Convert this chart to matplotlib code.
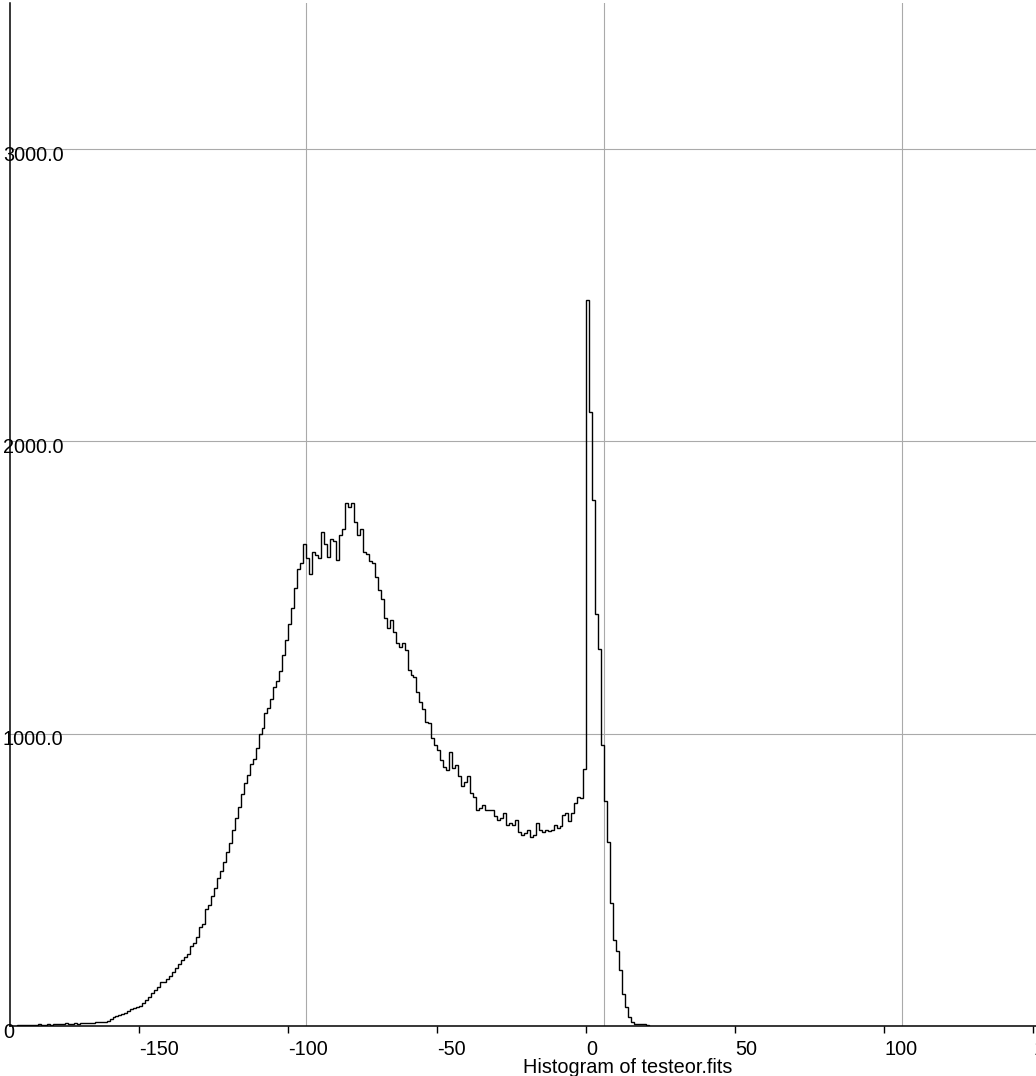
import matplotlib
matplotlib.use('Agg')
import matplotlib.pyplot as plt
import matplotlib.transforms as mtransforms
import numpy as np

# histogram counts, 1-unit bins starting at -191
bin_start = -191
bin_width = 1
tail_counts = [3, 2, 4, 3, 5, 3, 4, 6, 4, 5, 7, 5, 6, 8, 6, 7, 9, 7, 8, 10, 8, 9, 11,
               9, 10, 9, 12, 13, 15, 14, 18]
rise_counts = [25, 31, 33, 36, 40, 46, 50, 57, 60, 64,
               70, 78, 88, 100, 112, 122, 135, 152, 150, 160,
               170, 186, 200, 212, 226, 235, 248, 272, 285, 305,
               340, 350, 400, 415, 445, 472, 505, 530, 560, 595,
               625, 670, 710, 750, 795, 830, 860, 895, 915, 950,
               1000, 1019, 1070, 1087, 1120, 1160, 1180, 1215, 1270, 1320]
hump_counts = [1375, 1430, 1500, 1565, 1583, 1650, 1600, 1545, 1620, 1610,
               1600, 1690, 1650, 1605, 1665, 1660, 1595, 1680, 1700, 1790,
               1775, 1790, 1724, 1680, 1700, 1621, 1615, 1590, 1583, 1535,
               1490, 1460, 1395, 1360, 1388, 1347, 1309, 1296, 1310, 1285,
               1217, 1200, 1194, 1143, 1110, 1085, 1040, 1036, 985, 960]
valley_counts = [944, 910, 885, 875, 938, 882, 892, 855, 820, 835,
                 855, 797, 783, 738, 745, 755, 738, 740, 738, 718,
                 704, 710, 728, 687, 695, 687, 704, 663, 653, 660,
                 670, 646, 653, 694, 670, 663, 670, 668, 670, 687,
                 677, 684, 721, 728, 700, 730, 762, 783, 780, 880]
peak_counts = [2485, 2100, 1800, 1410, 1290, 960, 770, 630, 420, 295,
               255, 190, 110, 65, 32, 14, 8, 6, 8, 7, 4]

x_ticks = [-150, -100, -50, 0, 50, 100, 150]
x_tick_labels = ['-150', '-100', '-50', '0', '50', '100', '150']
y_ticks = [0, 1000, 2000, 3000]
y_tick_labels = ['0', '1000.0', '2000.0', '3000.0']
grid_x = [-94, 6, 106]

counts = np.array(tail_counts + rise_counts + hump_counts + valley_counts + peak_counts)
edges = bin_start + bin_width * np.arange(len(counts) + 1)

plt.rcParams['font.family'] = ['Liberation Sans', 'DejaVu Sans']

W, H = 1036, 1076
fig = plt.figure(figsize=(W / 100, H / 100), dpi=100)
fig.set_facecolor('white')
ax = fig.add_axes([10 / W, 50 / H, 1026 / W, 1023 / H])

ax.stairs(counts, edges, color='black', linewidth=1.0)

ax.set_xlim(-193.4, 150.9)
ax.set_ylim(0, 3500)

ax.set_xticks(x_ticks, x_tick_labels)
ax.set_xticks(grid_x, minor=True)
ax.set_yticks(y_ticks, [])
ax.tick_params(axis='x', which='major', direction='out', length=5, width=1,
               pad=5, labelsize=14.3, colors='black')
ax.tick_params(axis='x', which='minor', length=0)
ax.tick_params(axis='y', length=0)
for lbl in ax.get_xticklabels():
    lbl.set_ha('left')

# y labels sit over the spine, a little below their grid line
ylab_trans = mtransforms.offset_copy(ax.get_yaxis_transform(), fig=fig,
                                     x=-7, y=-4, units='dots')
for y, txt in zip(y_ticks, y_tick_labels):
    ax.text(0, y, txt, transform=ylab_trans, ha='left', va='center_baseline',
            fontsize=14.3, clip_on=False)

ax.grid(True, which='minor', axis='x', color='#aaaaaa', linewidth=0.8)
ax.grid(True, which='major', axis='y', color='#aaaaaa', linewidth=0.8)
ax.grid(False, which='major', axis='x')
ax.set_axisbelow(True)

ax.spines['top'].set_visible(False)
ax.spines['right'].set_visible(False)
ax.spines['left'].set_linewidth(1.1)
ax.spines['bottom'].set_linewidth(1.1)

ax.set_xlabel('Histogram of testeor.fits', fontsize=14.3, ha='left', va='baseline')
ax.xaxis.set_label_coords(0.5, -47 / 1023)

fig.savefig('out.png', dpi=100)
